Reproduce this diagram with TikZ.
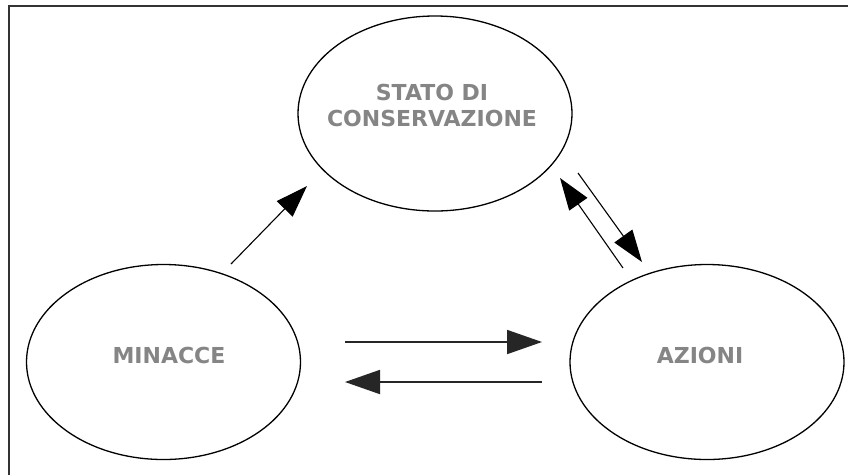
\documentclass[tikz,border=0pt]{standalone}
\usepackage{fontspec}
\setmainfont{DejaVu Sans}
\usetikzlibrary{shapes.geometric,arrows.meta}
\definecolor{txtgray}{HTML}{858585}
\begin{document}
\begin{tikzpicture}[x=1pt,y=-1pt,
  oval/.style={draw=black,line width=1.3pt,ellipse,minimum width=274pt,minimum height=195pt,inner sep=0pt},
  lbl/.style={text=txtgray,font=\fontsize{22}{26}\selectfont\bfseries,inner sep=0pt,align=center},
  conn/.style={draw=black,line width=1.1pt,-{Triangle[length=32pt,width=22pt]}},
  hconn/.style={draw=black!85,line width=1.8pt,-{Triangle[length=35pt,width=24pt]}}]
\useasboundingbox (0,0) rectangle (848,475);
\fill[white] (0,0) rectangle (848,475);
\draw[line width=1.2pt,black!80] (848,6) -- (9,6) -- (9,475);
\node[oval] (stato) at (435,113.5) {};
\node[oval] (minacce) at (163.5,362) {};
\node[oval] (azioni) at (707,362) {};
\node[lbl] (t1) at (432,92.5) {STATO DI};
\node[lbl] (t2) at (432,118.5) {CONSERVAZIONE};
\node[lbl] (t3) at (169,355) {MINACCE};
\node[lbl] (t4) at (700,355) {AZIONI};
\coordinate (a1s) at (231,264);
\coordinate (a1e) at (307,186);
\coordinate (a2s) at (623,268);
\coordinate (a2e) at (560,178);
\coordinate (a3s) at (578,173);
\coordinate (a3e) at (642,262);
\coordinate (a4s) at (345,342);
\coordinate (a4e) at (542,342);
\coordinate (a5s) at (542,382);
\coordinate (a5e) at (345,382);
\draw[conn] (a1s) -- (a1e);
\draw[conn] (a2s) -- (a2e);
\draw[conn] (a3s) -- (a3e);
\draw[hconn] (a4s) -- (a4e);
\draw[hconn] (a5s) -- (a5e);
\end{tikzpicture}
\end{document}
